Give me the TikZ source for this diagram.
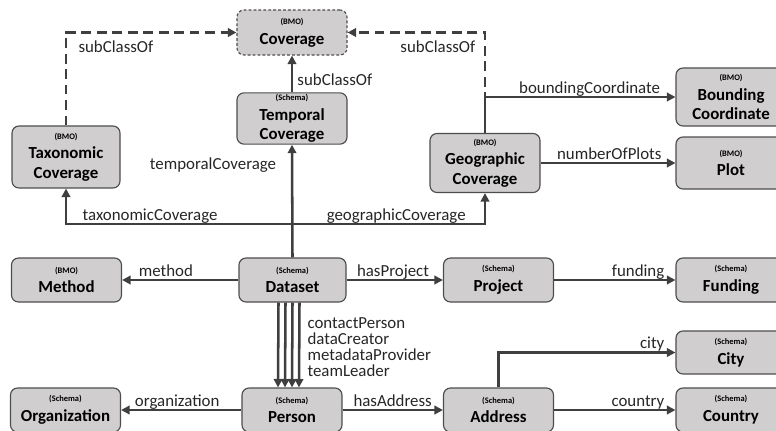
\documentclass[tikz,border=0pt]{standalone}
\usepackage{fontspec}
\setmainfont{Carlito}
\usetikzlibrary{arrows.meta}

\definecolor{boxfill}{HTML}{D0CECE}
\definecolor{boxline}{HTML}{4D4D4D}
\definecolor{linkc}{HTML}{3F3F3F}

\newcommand{\tg}[1]{{\fontsize{6}{7}\selectfont\bfseries (#1)}}

\tikzset{
  cls/.style={draw=boxline, fill=boxfill, line width=0.8pt, rounded corners=5pt,
              minimum width=2.75cm, minimum height=1.1cm, align=center, inner sep=1pt,
              font=\fontsize{12}{14}\selectfont\bfseries},
  link/.style={draw=linkc, line width=1.8pt, -{Triangle[length=6pt,width=6pt]}},
  sublink/.style={link, dash pattern=on 7pt off 4pt},
  lbl/.style={font=\fontsize{12}{14}\selectfont, text=black!85, inner sep=1pt},
  lblr/.style={lbl, pos=1, anchor=base east, xshift=-6pt, yshift=2.5pt},
  lbll/.style={lbl, pos=1, anchor=base west, xshift=8pt, yshift=2.5pt}
}

\begin{document}
\begin{tikzpicture}[x=0.025cm, y=-0.025cm]
    \clip (0, 0) rectangle (776, 430);

    % Coverage classes
    \node [cls, dash pattern=on 2pt off 1.5pt, minimum height=1.125cm] (cov) at (292, 32.5)
          {\tg{BMO}\\Coverage};
    \node [cls, minimum height=1.225cm] (temp) at (292, 118.5)
          {\tg{Schema}\\Temporal\\Coverage};
    \node [cls, minimum width=2.7cm, minimum height=1.55cm] (tax) at (66, 157)
          {\tg{BMO}\\Taxonomic\\Coverage};
    \node [cls, minimum height=1.475cm] (geo) at (485, 163)
          {\tg{BMO}\\Geographic\\Coverage};
    \node [cls, minimum height=1.45cm] (bound) at (731, 97)
          {\tg{BMO}\\Bounding\\Coordinate};
    \node [cls, minimum height=1.3cm] (plot) at (731, 163)
          {\tg{BMO}\\Plot};

    % Middle row
    \node [cls] (meth) at (66.5, 280) {\tg{BMO}\\Method};
    \node [cls, minimum width=2.675cm] (data) at (292.5, 280) {\tg{Schema}\\Dataset};
    \node [cls] (proj) at (498.5, 280) {\tg{Schema}\\Project};
    \node [cls] (fund) at (731, 280) {\tg{Schema}\\Funding};

    % Bottom rows
    \node [cls, minimum height=1.075cm] (city) at (731, 352.5) {\tg{Schema}\\City};
    \node [cls] (org) at (65.5, 410) {\tg{Schema}\\Organization};
    \node [cls, minimum width=2.5cm] (pers) at (292, 410) {\tg{Schema}\\Person};
    \node [cls] (addr) at (498.5, 410) {\tg{Schema}\\Address};
    \node [cls] (ctry) at (731, 410) {\tg{Schema}\\Country};

    % subClassOf
    \draw [sublink] (tax.north) |- (cov.west)
          node [lbl, pos=0.5, anchor=base west, xshift=7pt, yshift=-14.2pt] {subClassOf};
    \draw [sublink] (geo.north) |- (cov.east)
          node [lbl, pos=0.5, anchor=base east, xshift=-5pt, yshift=-14.2pt] {subClassOf};
    \draw [link] (temp.north) -- (cov.south)
          node [lbl, pos=0.33, anchor=west, xshift=2pt] {subClassOf};

    % Coverage properties
    \coordinate (hub) at (292, 224);
    \draw [link] (data.north) -- (temp.south)
          node [lbl, pos=0.82, anchor=east, xshift=-9.5pt] {temporalCoverage};
    \draw [link] (hub) -| (tax.south)
          node [lbl, pos=0.314, anchor=base, yshift=2.5pt] {taxonomicCoverage};
    \draw [link] (hub) -| (geo.south)
          node [lbl, pos=0.27, anchor=base, yshift=2.5pt] {geographicCoverage};
    \draw [link] (geo.north) |- (bound.west)
          node [lblr, xshift=-3pt] {boundingCoordinate};
    \draw [link] (geo.east) -- (plot.west)
          node [lblr, xshift=-2pt] {numberOfPlots};

    % Dataset properties
    \draw [link] (data.west) -- (meth.east) node [lbll, xshift=2pt] {method};
    \draw [link] (data.east) -- (proj.west) node [lblr, xshift=-2pt] {hasProject};
    \draw [link] (proj.east) -- (fund.west) node [lblr] {funding};
    \foreach \dx in {-14, -7, 0} {
      \draw [link] ([xshift=\dx*0.025cm]data.south) -- ([xshift=\dx*0.025cm]pers.north);
    }
    \draw [link] ([xshift=0.175cm]data.south) -- ([xshift=0.175cm]pers.north)
          node [lbl, midway, anchor=west, xshift=4pt, yshift=-1.5pt, align=left,
                font=\fontsize{12}{11.2}\selectfont]
          {contactPerson\\dataCreator\\metadataProvider\\teamLeader};

    % Person and address
    \draw [link] (pers.west) -- (org.east) node [lbll] {organization};
    \draw [link] (pers.east) -- (addr.west) node [lblr] {hasAddress};
    \draw [link] (addr.north) |- (city.west) node [lblr] {city};
    \draw [link] (addr.east) -- (ctry.west) node [lblr] {country};
\end{tikzpicture}
\end{document}
